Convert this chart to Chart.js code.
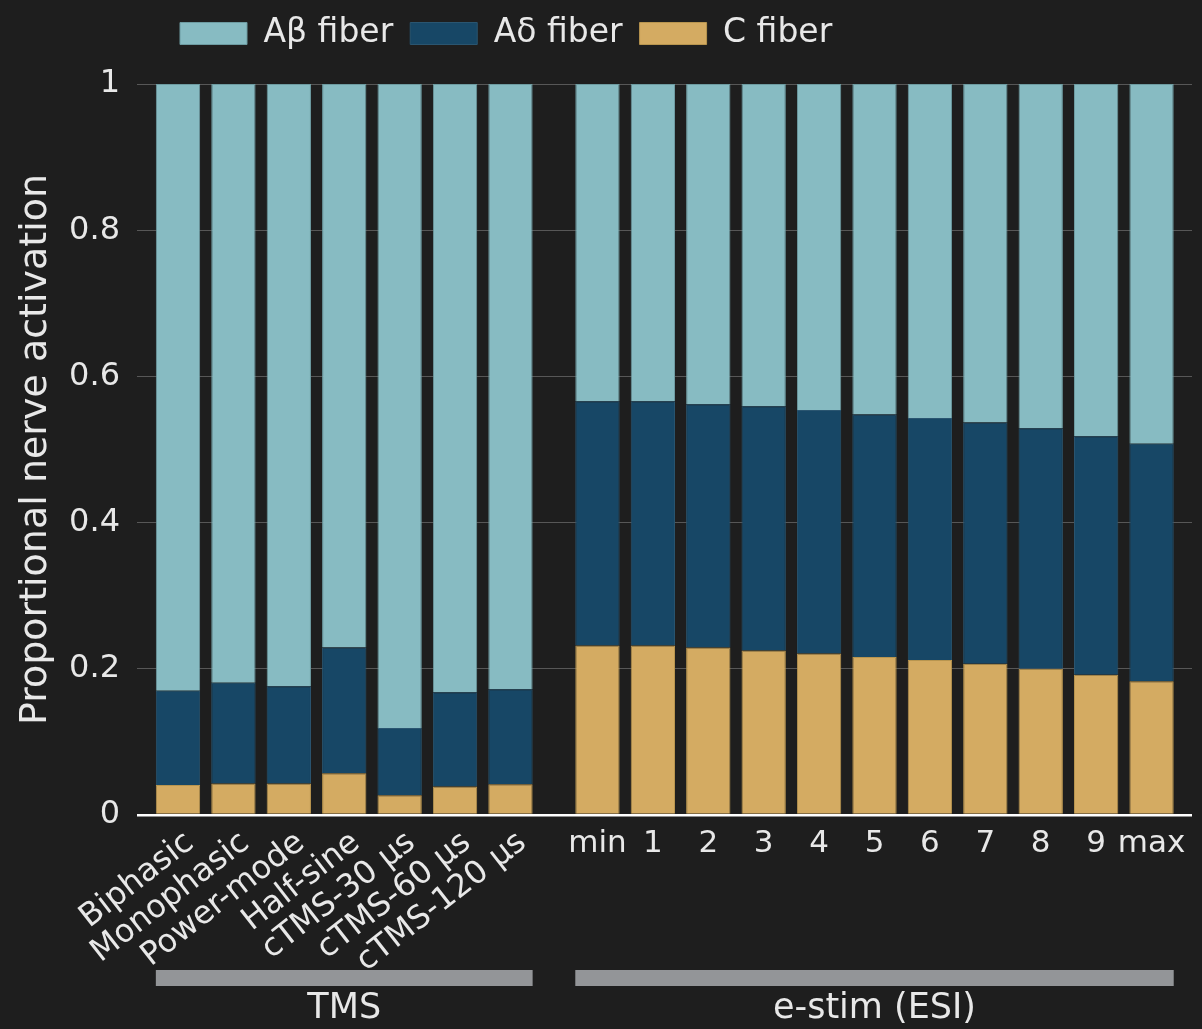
<!DOCTYPE html>
<html>
<head>
<meta charset="utf-8">
<script src="https://cdn.jsdelivr.net/npm/chart.js@4.4.1/dist/chart.umd.min.js"></script>
<style>
  html, body { margin: 0; padding: 0; background: #1e1e1e; overflow: hidden; }
  #wrap { width: 1202px; height: 1029px; }
</style>
</head>
<body>
<div id="wrap"><canvas id="nerveChart" width="1202" height="1029"></canvas></div>
<script>
// categories
const tmsLabels = ['Biphasic', 'Monophasic', 'Power-mode', 'Half-sine', 'cTMS-30 µs', 'cTMS-60 µs', 'cTMS-120 µs'];
const esiLabels = ['min', '1', '2', '3', '4', '5', '6', '7', '8', '9', 'max'];
const groupLabels = ['TMS', 'e-stim (ESI)'];
const seriesNames = ['C fiber', 'Aδ fiber', 'Aβ fiber'];

// values (TMS first, then ESI)
const cFiber = [0.041, 0.043, 0.043, 0.057, 0.027, 0.039, 0.042,
                0.232, 0.232, 0.229, 0.225, 0.221, 0.216, 0.212, 0.207, 0.200, 0.192, 0.183];
const aDelta = [0.129, 0.138, 0.133, 0.172, 0.092, 0.129, 0.130,
                0.334, 0.334, 0.333, 0.334, 0.333, 0.332, 0.331, 0.330, 0.329, 0.326, 0.325];
const aBeta  = [0.830, 0.819, 0.824, 0.771, 0.881, 0.832, 0.828,
                0.434, 0.434, 0.438, 0.441, 0.446, 0.452, 0.457, 0.463, 0.471, 0.482, 0.492];

const yTicks = [0, 0.2, 0.4, 0.6, 0.8, 1];

// layout: the ESI block starts a bit further right than the next slot
const esiStart = 7.57;
const xPos = tmsLabels.map((_, i) => i).concat(esiLabels.map((_, i) => esiStart + i));
const allLabels = tmsLabels.concat(esiLabels);

const textColor = '#e8e8e8';
const fontFam = '"DejaVu Sans", sans-serif';

const toPoints = arr => arr.map((v, i) => ({ x: xPos[i], y: v }));

const groupPlugin = {
    id: 'groupLabels',
    beforeInit(chart) {
        // fixed legend band height so the plot top sits at the right spot
        const fit = chart.legend.fit;
        chart.legend.fit = function () {
            fit.call(this);
            this.height = 84;
        };
    },
    afterLayout(chart) {
        chart.legend.left = 163;
    },
    afterDraw(chart) {
        const { ctx } = chart;
        const xs = chart.scales.x;
        const base = chart.scales.y.getPixelForValue(0);
        const bw = chart.getDatasetMeta(0).data[0].width;
        ctx.save();
        ctx.fillStyle = textColor;
        ctx.font = '32px ' + fontFam;

        // rotated TMS labels
        tmsLabels.forEach((lab, i) => {
            const px = xs.getPixelForValue(xPos[i]);
            ctx.save();
            ctx.translate(px + 12, base + 24);
            ctx.rotate(-38 * Math.PI / 180);
            ctx.textAlign = 'right';
            ctx.textBaseline = 'middle';
            ctx.fillText(lab, 0, 0);
            ctx.restore();
        });

        // flat ESI labels
        ctx.font = '31px ' + fontFam;
        ctx.textAlign = 'center';
        ctx.textBaseline = 'middle';
        esiLabels.forEach((lab, i) => {
            const px = xs.getPixelForValue(xPos[tmsLabels.length + i]);
            ctx.fillText(lab, px, base + 29);
        });

        // group bars + names
        const groups = [[0, tmsLabels.length - 1], [tmsLabels.length, allLabels.length - 1]];
        groups.forEach((g, k) => {
            const x0 = xs.getPixelForValue(xPos[g[0]]) - bw / 2;
            const x1 = xs.getPixelForValue(xPos[g[1]]) + bw / 2;
            ctx.fillStyle = '#939598';
            ctx.fillRect(x0, 970, x1 - x0, 16);
            ctx.fillStyle = textColor;
            ctx.font = '35px ' + fontFam;
            ctx.fillText(groupLabels[k], (x0 + x1) / 2, 1009);
        });
        ctx.restore();
    }
};

const ctx = document.getElementById('nerveChart').getContext('2d');
const nerveChart = new Chart(ctx, {
    type: 'bar',
    data: {
        datasets: [
            {
                label: seriesNames[0],
                data: toPoints(cFiber),
                backgroundColor: '#d4ab62',
                borderColor: '#b8954f',
                borderWidth: 1
            },
            {
                label: seriesNames[1],
                data: toPoints(aDelta),
                backgroundColor: '#174766',
                borderColor: '#2a5570',
                borderWidth: 1
            },
            {
                label: seriesNames[2],
                data: toPoints(aBeta),
                backgroundColor: '#87bbc2',
                borderColor: '#6d9ba1',
                borderWidth: 1
            }
        ]
    },
    options: {
        responsive: false,
        animation: false,
        layout: { padding: { left: 0, right: 10, top: 0, bottom: 0 } },
        datasets: { bar: { categoryPercentage: 1, barPercentage: 0.8 } },
        scales: {
            x: {
                type: 'linear',
                stacked: true,
                offset: false,
                min: -0.74,
                max: 18.3,
                grid: { display: false },
                border: { display: false },
                ticks: { display: false },
                afterFit(scale) { scale.height = 214; }
            },
            y: {
                stacked: true,
                min: 0,
                max: 1,
                afterFit(scale) { scale.width = 137; },
                afterBuildTicks(scale) { scale.ticks = yTicks.map(v => ({ value: v })); },
                border: { display: false },
                grid: {
                    drawTicks: false,
                    color: c => c.tick && c.tick.value === 0 ? '#ffffff' : '#575757',
                    lineWidth: c => c.tick && c.tick.value === 0 ? 2.5 : 1
                },
                ticks: {
                    color: textColor,
                    padding: 17,
                    font: { family: fontFam, size: 32 },
                    callback: v => String(Number(v.toFixed(1)))
                },
                title: {
                    display: true,
                    text: 'Proportional nerve activation',
                    color: textColor,
                    font: { family: fontFam, size: 38 },
                    padding: { top: 13, bottom: 0 }
                }
            }
        },
        plugins: {
            legend: {
                display: true,
                position: 'top',
                align: 'start',
                reverse: true,
                labels: {
                    color: textColor,
                    boxWidth: 67,
                    boxHeight: 22,
                    padding: 17,
                    font: { family: fontFam, size: 33 }
                }
            },
            tooltip: { enabled: false }
        }
    },
    plugins: [groupPlugin]
});
</script>
</body>
</html>
